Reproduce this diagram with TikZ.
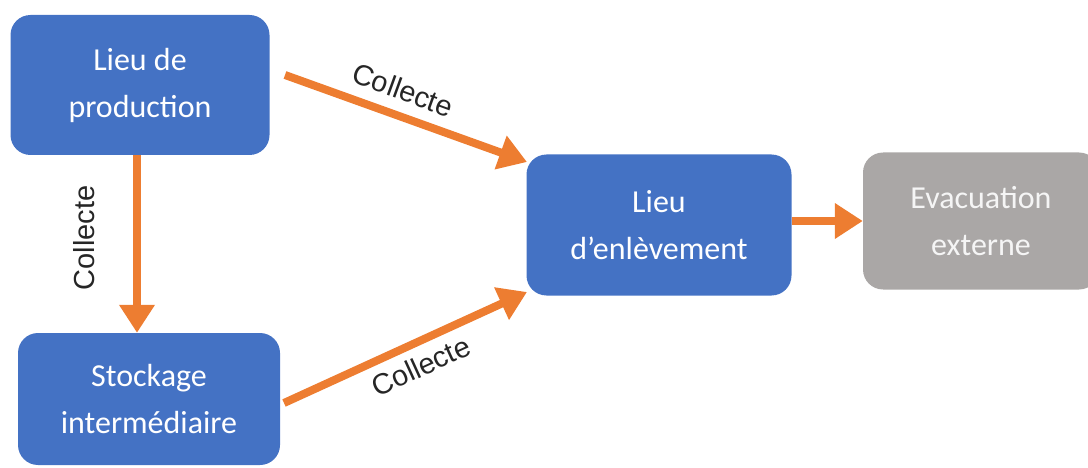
\documentclass[tikz,border=0pt]{standalone}
\usepackage{fontspec}
\setmainfont{Carlito}
\newfontfamily\arialfont{Liberation Sans}
\usetikzlibrary{arrows.meta}
\definecolor{boxblue}{HTML}{4472C4}
\definecolor{boxgray}{HTML}{AAA7A6}
\definecolor{flow}{HTML}{ED7D31}
\tikzset{
  stepbox/.style={draw=none, fill=boxblue, rounded corners=20pt, text=white,
    font=\fontsize{32}{47}\selectfont, align=center, inner sep=0pt},
  flowarrow/.style={draw=flow, line width=8pt,
    -{Triangle[length=28pt, width=34pt]}, shorten >=0pt},
  flowlabel/.style={font=\arialfont\fontsize{29}{32}\selectfont, text=black!85, inner sep=0pt}
}
\begin{document}
\begin{tikzpicture}[x=1pt, y=-1pt]
  \useasboundingbox (0,0) rectangle (1088,468);
  \node[stepbox, minimum width=259pt, minimum height=140pt] (prod) at (140,85)
    {Lieu de\\production};
  \node[stepbox, minimum width=262pt, minimum height=132pt] (stock) at (149,399)
    {Stockage\\intermédiaire};
  \node[stepbox, minimum width=265pt, minimum height=141pt] (enl) at (659,225)
    {Lieu\\d’enlèvement};
  \node[stepbox, fill=boxgray, text=white!92!gray, minimum width=236pt, minimum height=137pt] (evac) at (981,221)
    {Evacuation\\externe};

  \coordinate (p1) at (285,75);
  \coordinate (e1) at (527,162);
  \coordinate (s1) at (284,403);
  \coordinate (e2) at (527,292);

  \draw[flowarrow] (prod.south -| 137,0) -- (stock.north -| 137,0);
  \draw[flowarrow] (p1) -- (e1);
  \draw[flowarrow] (s1) -- (e2);
  \draw[flowarrow] (enl.east |- 0,221) -- (evac.west |- 0,221);

  \node[flowlabel, rotate=90] (l1) at (84,238) {Collecte};
  \node[flowlabel, rotate=-20] (l2) at (403,90) {Collecte};
  \node[flowlabel, rotate=24.5] (l3) at (421,366) {Collecte};
\end{tikzpicture}
\end{document}
